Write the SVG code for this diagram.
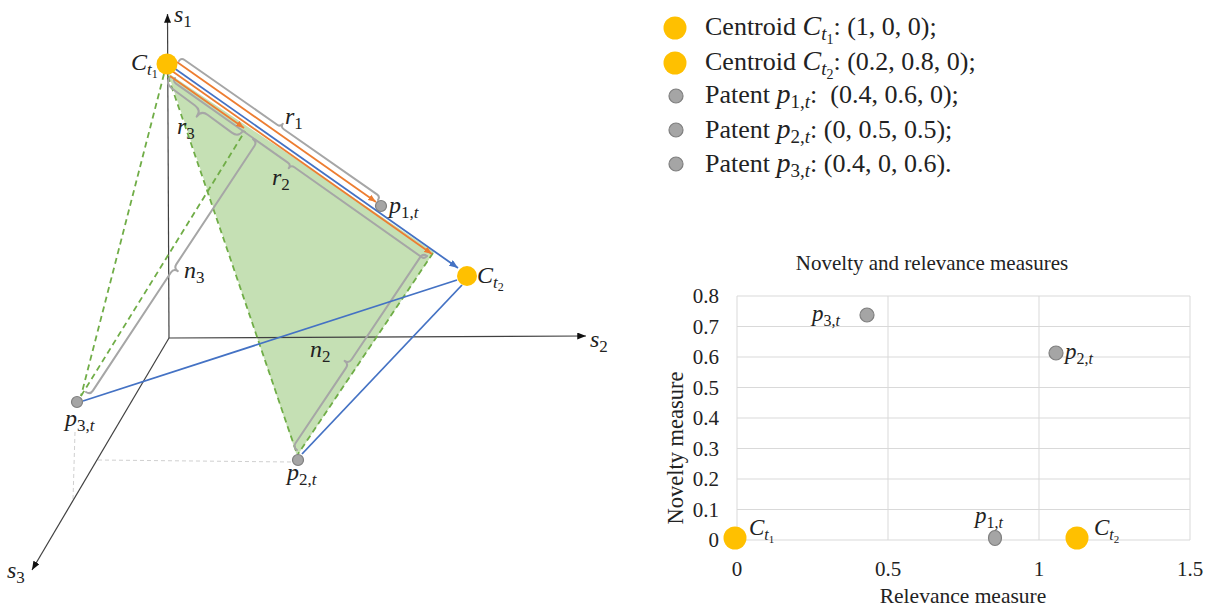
<svg xmlns="http://www.w3.org/2000/svg" width="1212" height="615" viewBox="0 0 1212 615">
<style>
.it{font-family:"Liberation Serif","Times New Roman",serif;font-style:italic;fill:#222}
.tx{font-family:"Liberation Serif","Times New Roman",serif;fill:#222}
.up{font-style:normal}
.ax{stroke:#404040;stroke-width:1.2;fill:none}
.gd{stroke:#70AD47;stroke-width:1.8;stroke-dasharray:6 4;fill:none}
.br{stroke:#A6A6A6;stroke-width:2;fill:none;stroke-linejoin:round;stroke-linecap:round}
.or{stroke:#ED7D31;stroke-width:1.8;fill:none}
.bl{stroke:#4472C4;stroke-width:1.8;fill:none}
.cen{fill:#FFC000}
.pat{fill:#A5A5A5;stroke:#7F7F7F;stroke-width:1.2}
.grid{stroke:#D9D9D9;stroke-width:1;fill:none}
.pj{stroke:#D0D0D0;stroke-width:1;stroke-dasharray:4 3;fill:none}
</style>
<defs>
<marker id="ma" viewBox="0 0 10 8" refX="10" refY="4" markerWidth="9" markerHeight="7" markerUnits="userSpaceOnUse" orient="auto"><path d="M0,0L10,4L0,8z" fill="#111"/></marker>
<marker id="mo" viewBox="0 0 10 8" refX="10" refY="4" markerWidth="8" markerHeight="6.5" markerUnits="userSpaceOnUse" orient="auto"><path d="M0,0L10,4L0,8z" fill="#ED7D31"/></marker>
<marker id="mb" viewBox="0 0 10 8" refX="10" refY="4" markerWidth="9" markerHeight="7" markerUnits="userSpaceOnUse" orient="auto"><path d="M0,0L10,4L0,8z" fill="#4472C4"/></marker>
</defs>

<!-- 3D diagram -->
<g id="plane">
<polygon points="168,73 434,252 297,456" fill="#C5E0B4"/>
</g>
<g id="connectors">
<path class="pj" d="M75,432 L73,500"/>
<path class="pj" d="M98,460 L292,462"/>
<path class="ax" d="M169,338 L167.5,14" marker-end="url(#ma)"/>
<path class="ax" d="M169,338 L586,336" marker-end="url(#ma)"/>
<path class="ax" d="M169,338 L32,570" marker-end="url(#ma)"/>
<path class="gd" d="M168,76 L297,454"/>
<path class="gd" d="M433,253 L298,454"/>
<path class="gd" d="M164,74 L81,396"/>
<path class="gd" d="M81,396 L245,131"/>
<path class="br" transform="translate(179,61) rotate(34.93)" d="M0,0 Q0,-4 4,-4 L117,-4 Q121,-4 121,-8 Q121,-4 125,-4 L238.7,-4 Q242.7,-4 242.7,0"/>
<path class="br" transform="translate(175,78) rotate(35.24)" d="M0,0 Q0,4 4,4 L141,4 Q145,4 145,8 Q145,4 149,4 L304.5,4 Q308.5,4 308.5,0"/>
<path class="br" transform="translate(170,77) rotate(36.49)" d="M0,0 Q0,8 8,8 L37,8 Q45,8 45,16 Q45,8 53,8 L82.8,8 Q90.8,8 90.8,0"/>
<path class="br" transform="translate(86,392) rotate(-56.57)" d="M0,0 Q0,5 5,5 L146.5,5 Q151.5,5 151.5,10 Q151.5,5 156.5,5 L298.1,5 Q303.1,5 303.1,0"/>
<path class="br" transform="translate(427,256) rotate(123.83)" d="M0,0 Q0,5 5,5 L128,5 Q133,5 133,10 Q133,5 138,5 L228.5,5 Q233.5,5 233.5,0"/>
<path class="bl" d="M457,280 L83,401"/>
<path class="bl" d="M462,285 L302,454"/>
<path class="bl" d="M174,68 L458,268" marker-end="url(#mb)"/>
<path class="or" d="M177,62 L376,202" marker-end="url(#mo)"/>
<path class="or" d="M172,71 L432,254" marker-end="url(#mo)"/>
<path class="or" d="M170,76 L244,128" marker-end="url(#mo)"/>
</g>
<g id="ct1"><circle class="cen" cx="167" cy="64" r="10.5"/>
<text class="it" x="131" y="70" font-size="24">C<tspan font-size="17" dy="5">t</tspan><tspan class="up" font-size="12" dy="3">1</tspan></text></g>
<g id="ct2"><circle class="cen" cx="467" cy="276" r="10"/>
<text class="it" x="477" y="283" font-size="24">C<tspan font-size="17" dy="5">t</tspan><tspan class="up" font-size="12" dy="3">2</tspan></text></g>
<g id="p1"><circle class="pat" cx="381" cy="206" r="5.5"/>
<text class="it" x="389" y="213" font-size="24">p<tspan class="up" font-size="17" dy="5">1,</tspan><tspan font-size="17">t</tspan></text></g>
<g id="p2"><circle class="pat" cx="298" cy="460" r="5.5"/>
<text class="it" x="287" y="480" font-size="24">p<tspan class="up" font-size="17" dy="5">2,</tspan><tspan font-size="17">t</tspan></text></g>
<g id="p3"><circle class="pat" cx="77" cy="402" r="5.5"/>
<text class="it" x="65" y="426" font-size="24">p<tspan class="up" font-size="17" dy="5">3,</tspan><tspan font-size="17">t</tspan></text></g>
<g id="labels3d">
<text class="it" x="174" y="22" font-size="24">s<tspan class="up" font-size="17" dy="5">1</tspan></text>
<text class="it" x="590" y="347" font-size="24">s<tspan class="up" font-size="17" dy="5">2</tspan></text>
<text class="it" x="7" y="578" font-size="24">s<tspan class="up" font-size="17" dy="5">3</tspan></text>
<text class="it" x="285" y="124" font-size="24">r<tspan class="up" font-size="17" dy="5">1</tspan></text>
<text class="it" x="272" y="185" font-size="24">r<tspan class="up" font-size="17" dy="5">2</tspan></text>
<text class="it" x="177" y="134" font-size="24">r<tspan class="up" font-size="17" dy="5">3</tspan></text>
<text class="it" x="310" y="357" font-size="24">n<tspan class="up" font-size="17" dy="5">2</tspan></text>
<text class="it" x="184" y="278" font-size="24">n<tspan class="up" font-size="17" dy="5">3</tspan></text>
</g>

<!-- Legend -->
<g id="legend">
<circle class="cen" cx="675" cy="28" r="11.5"/>
<circle class="cen" cx="675" cy="63" r="11.5"/>
<circle class="pat" cx="676" cy="96" r="7"/>
<circle class="pat" cx="676" cy="130" r="7"/>
<circle class="pat" cx="676" cy="164" r="7"/>
<text class="tx" x="705" y="35" font-size="26">Centroid <tspan class="it" font-size="28">C</tspan><tspan class="it" font-size="19" dy="5">t</tspan><tspan font-size="14" dy="4">1</tspan><tspan dy="-9">: (1, 0, 0);</tspan></text>
<text class="tx" x="705" y="70" font-size="26">Centroid <tspan class="it" font-size="28">C</tspan><tspan class="it" font-size="19" dy="5">t</tspan><tspan font-size="14" dy="4">2</tspan><tspan dy="-9">: (0.2, 0.8, 0);</tspan></text>
<text class="tx" x="705" y="103" font-size="26">Patent <tspan class="it" font-size="28">p</tspan><tspan font-size="19" dy="5">1,</tspan><tspan class="it" font-size="19">t</tspan><tspan dy="-5">: &#160;(0.4, 0.6, 0);</tspan></text>
<text class="tx" x="705" y="138" font-size="26">Patent <tspan class="it" font-size="28">p</tspan><tspan font-size="19" dy="5">2,</tspan><tspan class="it" font-size="19">t</tspan><tspan dy="-5">: (0, 0.5, 0.5);</tspan></text>
<text class="tx" x="705" y="172" font-size="26">Patent <tspan class="it" font-size="28">p</tspan><tspan font-size="19" dy="5">3,</tspan><tspan class="it" font-size="19">t</tspan><tspan dy="-5">: (0.4, 0, 0.6).</tspan></text>
</g>

<!-- Chart -->
<g id="chart">
<text class="tx" x="932" y="270" font-size="21" text-anchor="middle">Novelty and relevance measures</text>
<path class="grid" d="M737,296H1190M737,326.5H1190M737,357H1190M737,387.5H1190M737,418H1190M737,448.5H1190M737,479H1190M737,509.5H1190M737,540H1190M737,296V540M888,296V540M1039,296V540M1190,296V540"/>
<g class="tx" font-size="21" text-anchor="end">
<text x="719" y="303">0.8</text><text x="719" y="333.5">0.7</text><text x="719" y="364">0.6</text><text x="719" y="394.5">0.5</text><text x="719" y="425">0.4</text><text x="719" y="455.5">0.3</text><text x="719" y="486">0.2</text><text x="719" y="516.5">0.1</text><text x="719" y="547">0</text>
</g>
<g class="tx" font-size="21" text-anchor="middle">
<text x="737" y="576">0</text><text x="888" y="576">0.5</text><text x="1039" y="576">1</text><text x="1190" y="576">1.5</text>
</g>
<text class="tx" x="963" y="603" font-size="21.5" text-anchor="middle">Relevance measure</text>
<text class="tx" font-size="22.5" text-anchor="middle" transform="translate(683,448) rotate(-90)">Novelty measure</text>
</g>
<g id="cp3"><circle class="pat" cx="867" cy="315" r="7"/>
<text class="it" x="812" y="321" font-size="23">p<tspan class="up" font-size="16" dy="5">3,</tspan><tspan font-size="16">t</tspan></text></g>
<g id="cp2"><circle class="pat" cx="1056" cy="353" r="7"/>
<text class="it" x="1065" y="359" font-size="23">p<tspan class="up" font-size="16" dy="5">2,</tspan><tspan font-size="16">t</tspan></text></g>
<g id="cp1"><ellipse class="pat" cx="995" cy="538" rx="6.5" ry="7.5"/>
<text class="it" x="975" y="523" font-size="23">p<tspan class="up" font-size="16" dy="5">1,</tspan><tspan font-size="16">t</tspan></text></g>
<g id="cc1"><circle class="cen" cx="735" cy="538" r="11.5"/>
<text class="it" x="749" y="535" font-size="23">C<tspan font-size="16" dy="5">t</tspan><tspan class="up" font-size="11" dy="3">1</tspan></text></g>
<g id="cc2"><circle class="cen" cx="1077" cy="538" r="11.5"/>
<text class="it" x="1094" y="535" font-size="23">C<tspan font-size="16" dy="5">t</tspan><tspan class="up" font-size="11" dy="3">2</tspan></text></g>
</svg>
